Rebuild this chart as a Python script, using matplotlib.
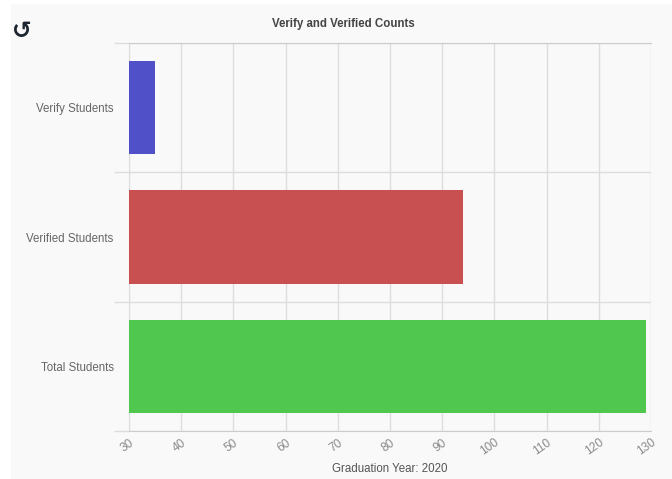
import matplotlib
matplotlib.use("Agg")
import matplotlib.pyplot as plt

categories = ["Total Students", "Verified Students", "Verify Students"]
values = [129, 94, 35]
colors = ["#50c850", "#c85050", "#5050c8"]
x_ticks = list(range(30, 131, 10))
title = "Verify and Verified Counts"
xlabel = "Graduation Year: 2020"

W, H = 672, 479
plt.rcParams["font.family"] = ["Liberation Sans", "DejaVu Sans"]
fig = plt.figure(figsize=(W/100, H/100), dpi=100, facecolor="white")
bg = fig.add_axes([11/W, 0, 1-11/W, 1-4/H], facecolor="#f9f9f9")
bg.set_xticks([]); bg.set_yticks([])
for s in bg.spines.values():
    s.set_visible(False)

L, R, T, B = 129, 651, 43, 431
ax = fig.add_axes([L/W, 1-B/H, (R-L)/W, (B-T)/H], facecolor="none")
ax.barh(range(3), values, height=0.72, color=colors, zorder=3)
ax.set_xlim(30, 130)
ax.set_ylim(-0.5, 2.5)
ax.set_xticks(x_ticks)
ax.set_yticks([0, 1, 2], categories)
ax.set_yticks([-0.5, 0.5, 1.5, 2.5], minor=True)
ax.grid(True, axis="x", color="#dddddd", lw=1, zorder=0)
ax.grid(True, axis="y", which="minor", color="#dddddd", lw=1, zorder=0)
ax.grid(False, axis="y", which="major")
ax.tick_params(axis="y", which="major", length=0, pad=11, labelsize=8.3, labelcolor="#666666")
ax.tick_params(axis="y", which="minor", length=11, color="#dddddd", width=1)
ax.tick_params(axis="x", length=0, pad=4, labelsize=8.6, labelcolor="#8a8a8a")
for t in ax.get_xticklabels():
    t.set_rotation(35)
    t.set_ha("right")
    t.set_va("top")
    t.set_rotation_mode("anchor")
for s in ["right"]:
    ax.spines[s].set_visible(False)
for s in ["top", "bottom", "left"]:
    ax.spines[s].set_color("#cccccc")
ax.spines["left"].set_color("#dddddd")

fig.text(343/W, 1-24/H, title, ha="center", va="center", fontsize=8.3, color="#444444", fontweight="bold")
fig.text(390/W, 1-469/H, xlabel, ha="center", va="center", fontsize=8.3, color="#555555")
fig.text(22/W, 1-31/H, "\u21ba", ha="center", va="center", fontsize=17, color="#1c2530",
         family="DejaVu Sans", fontweight="bold")
fig.savefig("out.png", dpi=100, facecolor="white")
